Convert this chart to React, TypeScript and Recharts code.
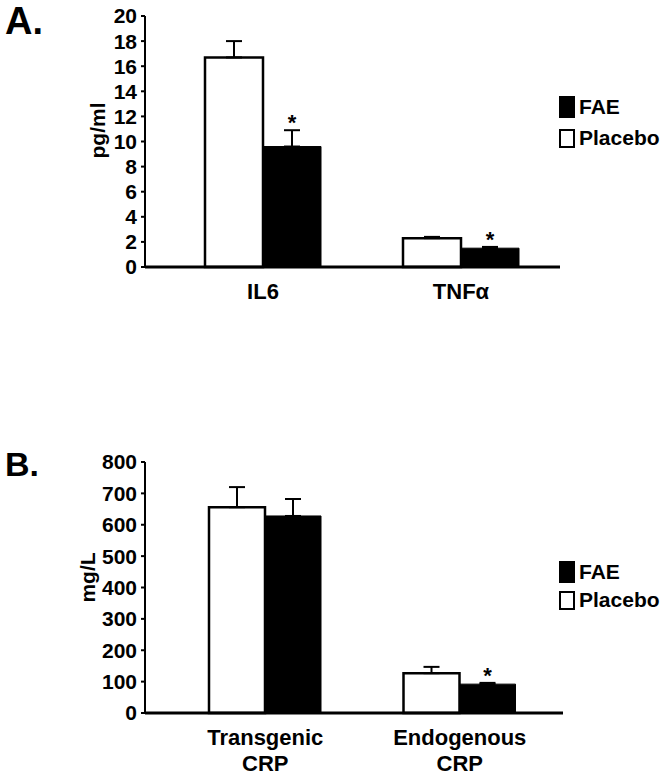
import { BarChart, Bar, XAxis, YAxis, ErrorBar, LabelList, Legend } from 'recharts';

// Panel A: cytokines (pg/ml)
const catsA = ['IL6', 'TNFα'];
const placeboA = [16.7, 2.3];
const placeboErrA = [1.3, 0.1];
const faeA = [9.6, 1.5];
const faeErrA = [1.3, 0.1];
const sigA = [true, true];
const ticksA = [0, 2, 4, 6, 8, 10, 12, 14, 16, 18, 20];

// Panel B: CRP (mg/L)
const catsB = ['Transgenic CRP', 'Endogenous CRP'];
const placeboB = [656, 127];
const placeboErrB = [64, 20];
const faeB = [628, 92];
const faeErrB = [54, 4];
const sigB = [false, true];
const ticksB = [0, 100, 200, 300, 400, 500, 600, 700, 800];

const FONT = '"Liberation Sans", Arial, sans-serif';

const buildRows = (cats: string[], p: number[], pe: number[], f: number[], fe: number[]) =>
  cats.map((c, i) => ({ name: c, placebo: p[i], pErr: [0, pe[i]], fae: f[i], fErr: [0, fe[i]] }));

const CatTick = ({ x, y, payload }: any) => {
  const lines = String(payload.value).split(' ');
  return (
    <text x={x} y={y} textAnchor="middle" fontFamily={FONT} fontWeight="bold" fontSize={22} fill="#000">
      {lines.map((l, i) => (
        <tspan key={i} x={x} dy={i === 0 ? 24 : 26}>{l}</tspan>
      ))}
    </text>
  );
};

const YLabel = ({ viewBox, text, dx, dy }: any) => {
  const cx = viewBox.x + dx;
  const cy = viewBox.y + viewBox.height / 2 + dy;
  return (
    <text x={cx} y={cy} transform={`rotate(-90 ${cx} ${cy})`} textAnchor="middle" dominantBaseline="central"
      fontFamily={FONT} fontWeight="bold" fontSize={21} fill="#000">{text}</text>
  );
};

const LegendBox = ({ gap }: { gap: number }) => (
  <div style={{ fontFamily: FONT, fontWeight: 'bold', fontSize: 21, color: '#000' }}>
    <div style={{ display: 'flex', alignItems: 'center', height: 24 }}>
      <div style={{ width: 16, height: 22, background: '#000', marginRight: 4 }} />
      <span>FAE</span>
    </div>
    <div style={{ display: 'flex', alignItems: 'center', height: 24, marginTop: gap }}>
      <div style={{ width: 16, height: 19, border: '2.5px solid #000', boxSizing: 'border-box', background: '#fff', marginRight: 4 }} />
      <span>Placebo</span>
    </div>
  </div>
);

const Panel = ({ rows, errs, sig, ticks, max, unit, height, top, plotTop, plotBottom, xHeight, right, padL, padR, barSize, labelDx, labelDy, legendTop, legendGap }: any) => {
  const Star = (props: any) => {
    const { x, y, width, height: h, value, index } = props;
    if (!sig[index] || !value) return null;
    const errTop = y - (errs[index] * h) / value;
    return (
      <text x={x + width / 2} y={errTop} textAnchor="middle" fontFamily={FONT} fontWeight="bold" fontSize={22} fill="#000">*</text>
    );
  };
  return (
    <div style={{ position: 'absolute', left: 0, top, width: 662, height }}>
      <BarChart width={662} height={height} data={rows} barGap={0} barSize={barSize}
        margin={{ top: plotTop, right, left: 70, bottom: height - plotBottom - xHeight }}>
        <XAxis dataKey="name" height={xHeight} tickLine={false} interval={0} padding={{ left: padL, right: padR }}
          axisLine={{ stroke: '#000', strokeWidth: 3 }} tick={<CatTick />} />
        <YAxis width={75} domain={[0, max]} ticks={ticks} interval={0} tickSize={4} tickMargin={4}
          axisLine={{ stroke: '#000', strokeWidth: 2 }} tickLine={{ stroke: '#000', strokeWidth: 2 }}
          tick={{ fill: '#000', fontFamily: FONT, fontWeight: 'bold', fontSize: 21 }}
          label={<YLabel text={unit} dx={labelDx} dy={labelDy} />} />
        <Legend layout="vertical" align="center" verticalAlign="middle"
          wrapperStyle={{ left: 559, top: legendTop, width: 110 }} content={() => <LegendBox gap={legendGap} />} />
        <Bar dataKey="placebo" name="Placebo" fill="#fff" stroke="#000" strokeWidth={2.5} isAnimationActive={false}>
          <ErrorBar dataKey="pErr" width={8} strokeWidth={2} stroke="#000" direction="y" isAnimationActive={false} />
        </Bar>
        <Bar dataKey="fae" name="FAE" fill="#000" stroke="#000" strokeWidth={1} isAnimationActive={false}>
          <ErrorBar dataKey="fErr" width={8} strokeWidth={2} stroke="#000" direction="y" isAnimationActive={false} />
          <LabelList dataKey="fae" content={<Star />} />
        </Bar>
      </BarChart>
    </div>
  );
};

export default function App() {
  const rowsA = buildRows(catsA, placeboA, placeboErrA, faeA, faeErrA);
  const rowsB = buildRows(catsB, placeboB, placeboErrB, faeB, faeErrB);
  return (
    <div style={{ position: 'absolute', left: 0, top: 0, width: 662, height: 777, background: '#fff', fontFamily: FONT }}>
      <div style={{ position: 'absolute', left: 5, top: 0, fontSize: 38, fontWeight: 'bold', lineHeight: 'normal' }}>A.</div>
      <div style={{ position: 'absolute', left: 5, top: 445, fontSize: 34, fontWeight: 'bold', lineHeight: 'normal' }}>B.</div>
      <Panel rows={rowsA} errs={faeErrA} sig={sigA} ticks={ticksA} max={20} unit="pg/ml"
        height={320} top={0} plotTop={16} plotBottom={267} xHeight={40} right={102} padL={19} padR={0} barSize={58}
        labelDx={27} labelDy={-11} legendTop={95} legendGap={7} />
      <Panel rows={rowsB} errs={faeErrB} sig={sigB} ticks={ticksB} max={800} unit="mg/L"
        height={377} top={400} plotTop={62} plotBottom={313} xHeight={60} right={99} padL={23} padR={6} barSize={56}
        labelDx={17} labelDy={-10} legendTop={160} legendGap={4} />
    </div>
  );
}
